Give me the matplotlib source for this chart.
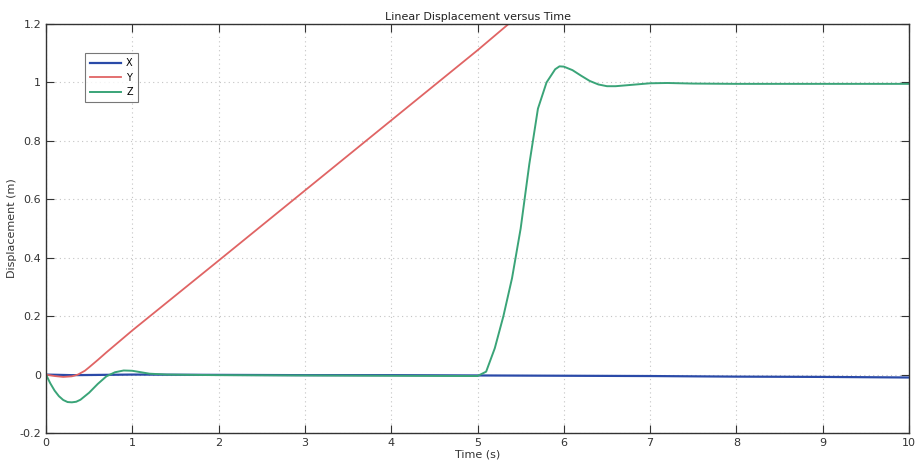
import matplotlib
matplotlib.use('Agg')
import matplotlib.pyplot as plt

# values
t_x = [0, 0.3, 1, 2, 3, 4, 5, 6, 7, 8, 9, 10]
disp_x = [0, -0.002, 0, -0.001, -0.002, -0.002, -0.003, -0.004, -0.005, -0.007, -0.008, -0.01]

t_y = [0, 0.1, 0.2, 0.3, 0.37, 0.45, 0.5, 0.6, 0.7, 0.8, 0.9, 1.0, 2.0, 3.0, 4.0, 5.0, 5.4]
disp_y = [0, -0.005, -0.008, -0.006, 0.0, 0.013, 0.025, 0.05, 0.076, 0.101, 0.126, 0.151,
          0.39, 0.63, 0.87, 1.11, 1.21]

t_z = [0, 0.05, 0.1, 0.15, 0.2, 0.25, 0.3, 0.35, 0.4, 0.5, 0.6, 0.7, 0.8, 0.9, 1.0, 1.1, 1.2,
       1.4, 2, 3, 4, 5, 5.1, 5.2, 5.3, 5.4, 5.5, 5.6, 5.7, 5.8, 5.9, 5.95, 6.0, 6.1, 6.2, 6.3,
       6.4, 6.5, 6.6, 6.8, 7.0, 7.2, 7.5, 8, 9, 10]
disp_z = [0, -0.03, -0.055, -0.074, -0.087, -0.094, -0.095, -0.093, -0.086, -0.062, -0.032,
          -0.006, 0.008, 0.014, 0.013, 0.008, 0.003, 0.0, -0.002, -0.003, -0.004, -0.005,
          0.01, 0.09, 0.2, 0.33, 0.5, 0.72, 0.91, 1.0, 1.045, 1.055, 1.054, 1.042, 1.023,
          1.005, 0.993, 0.987, 0.987, 0.992, 0.997, 0.998, 0.996, 0.995, 0.995, 0.995]

plt.rcParams['font.family'] = ['DejaVu Sans']
fig = plt.figure(figsize=(9.16, 4.70), dpi=100)
ax = fig.add_axes([0.0502, 0.0787, 0.9422, 0.8703])

ax.plot(t_x, disp_x, color='#2a4aa8', lw=1.6, label='X')
ax.plot(t_y, disp_y, color='#e06464', lw=1.3, label='Y')
ax.plot(t_z, disp_z, color='#3aa478', lw=1.4, label='Z')

ax.set_xlim(0, 10)
ax.set_ylim(-0.2, 1.2)
ax.set_xticks(range(0, 11))
ax.set_yticks([-0.2, 0, 0.2, 0.4, 0.6, 0.8, 1, 1.2])
ax.set_yticklabels(['-0.2', '0', '0.2', '0.4', '0.6', '0.8', '1', '1.2'])
ax.tick_params(direction='in', length=6, labelsize=8, colors='#333333', top=True, right=True)
ax.grid(True, linestyle=(0, (1, 3)), color='#c4c4c4', lw=0.8)
for s in ax.spines.values():
    s.set_color('#333333')
    s.set_linewidth(1.0)

ax.set_title('Linear Displacement versus Time', fontsize=8, color='#222222', pad=3)
ax.set_xlabel('Time (s)', fontsize=8, color='#333333', labelpad=1)
ax.set_ylabel('Displacement (m)', fontsize=8, color='#333333', labelpad=2)

leg = ax.legend(loc='upper left', bbox_to_anchor=(0.04, 0.94), fontsize=7, frameon=True,
                fancybox=False, edgecolor='#555555', handlelength=3.2, borderpad=0.5,
                labelspacing=0.45, handletextpad=0.5)
leg.get_frame().set_linewidth(0.8)

fig.savefig('out.png', dpi=100)
